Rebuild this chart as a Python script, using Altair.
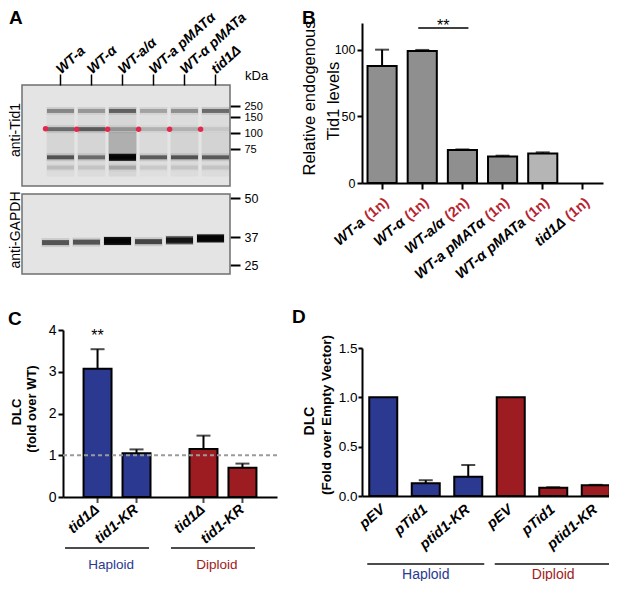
import altair as alt
import pandas as pd

FONT = "Liberation Sans"
W, H = 601, 573


def px(v):
    return v - 8


def py(v):
    return v - 8


BLUE = "#2b3990"
RED = "#9d1c21"
PLOIDY_RED = "#b82530"
GRAY = "#8f8f8f"
LIGHT = "#b5b5b5"
DOT = "#e0294d"

# ---------------- data ----------------
# Panel A (western blots)
lanes = ["WT-a", "WT-α", "WT-a/α", "WT-a pMATα", "WT-α pMATa", "tid1Δ"]
tid1_markers = [250, 150, 100, 75]
gapdh_markers = [50, 37, 25]
tid1_band_kda = [205, 112, 62, 46]
tid1_band_205 = [0.45, 0.35, 0.65, 0.30, 0.40, 0.60]
tid1_band_112 = [0.60, 0.70, 0.35, 0.22, 0.22, 0.10]
tid1_band_62 = [0.75, 0.60, 1.00, 0.70, 0.75, 0.70]
tid1_band_46 = [0.15, 0.12, 0.25, 0.10, 0.12, 0.12]
lane_smear = [0.03, 0.03, 0.06, 0.02, 0.03, 0.03]
lane_smear_mid = [0.03, 0.03, 0.18, 0.02, 0.04, 0.04]
gapdh_kda = [34.6, 34.8, 35.3, 35.0, 35.6, 36.4]
gapdh_int = [0.75, 0.75, 1.00, 0.85, 0.95, 1.00]
dot_kda = [113, 112, 112, 112, 112, 112]

# Panel B
b_strains = ["WT-a", "WT-α", "WT-a/α", "WT-a pMATα", "WT-α pMATa", "tid1Δ"]
b_ploidy = ["(1n)", "(1n)", "(2n)", "(1n)", "(1n)", "(1n)"]
b_values = [87.8, 99.0, 24.8, 19.8, 22.2, 0.0]
b_upper = [100.0, 99.8, 25.2, 20.5, 23.0, 0.0]
b_sig = {"from": "WT-α", "to": "WT-a/α", "level": 116.3, "mark": "**"}

# Panel C
groups = ["Haploid", "Diploid"]
c_groups = ["Haploid", "Haploid", "Diploid", "Diploid"]
c_labels = ["tid1Δ", "tid1-KR", "tid1Δ", "tid1-KR"]
c_values = [3.07, 1.05, 1.15, 0.70]
c_upper = [3.54, 1.14, 1.47, 0.80]

# Panel D
d_groups = ["Haploid", "Haploid", "Haploid", "Diploid", "Diploid", "Diploid"]
d_labels = ["pEV", "pTid1", "ptid1-KR", "pEV", "pTid1", "ptid1-KR"]
d_values = [1.0, 0.13, 0.195, 1.0, 0.084, 0.108]
d_upper = [1.0, 0.16, 0.314, 1.0, 0.089, 0.113]

EMPTY = alt.Data(values=[{}])
LAB_ANGLE = 320
LAB_SIZE = 14.5


def note(text, x, y, size=13, weight="normal", style="normal", angle=0,
         align="center", baseline="middle", color="black"):
    return alt.Chart(EMPTY).mark_text(
        text=text, font=FONT, fontSize=size, fontWeight=weight, fontStyle=style,
        angle=angle, align=align, baseline=baseline, color=color
    ).encode(x=alt.value(px(x)), y=alt.value(py(y)))


def frame(x1, x2, y1, y2):
    return alt.Chart(EMPTY).mark_rect(
        fill="#e4e4e4", stroke="#6f6f6f", strokeWidth=1.5
    ).encode(x=alt.value(px(x1)), x2=alt.value(px(x2)),
             y=alt.value(py(y1)), y2=alt.value(py(y2)))


def band_layers(df, xfun, yfun, core_thick):
    halo = alt.Chart(df).transform_calculate(op="datum.int*0.16").mark_tick(
        orient="horizontal", thickness=core_thick + 4, size=28, color="#1a1a1a"
    ).encode(x=xfun(), y=yfun("kda:Q"), opacity=alt.Opacity("op:Q", scale=None))
    core = alt.Chart(df).transform_calculate(op="datum.int*0.85").mark_tick(
        orient="horizontal", thickness=core_thick, size=27, color="#111111"
    ).encode(x=xfun(), y=yfun("kda:Q"), opacity=alt.Opacity("op:Q", scale=None))
    heavy = alt.Chart(df).transform_calculate(op="max(datum.int-0.85,0)*6").mark_tick(
        orient="horizontal", thickness=core_thick + 3, size=27, color="#000000"
    ).encode(x=xfun(), y=yfun("kda:Q"), opacity=alt.Opacity("op:Q", scale=None))
    return [halo, core, heavy]


# ---------------- Panel A upper (anti-Tid1) ----------------
scaleA_x = alt.Scale(domain=lanes, range=[px(45), px(231)], paddingInner=0.1, paddingOuter=0.05)
axisA_x = alt.Axis(orient="top", offset=-py(85), domain=False, ticks=True, tickSize=11,
                   tickWidth=1.5, labelAngle=-42, labelAlign="left", labelBaseline="middle",
                   labelPadding=3, labelFontSize=14, labelFontWeight="bold",
                   labelFontStyle="italic", labelOverlap=False, labelBound=False,
                   labelFlush=False, labelOffset=-2, title=None)
scaleA_y = alt.Scale(domain=[75, 100, 150, 250], range=[py(149), py(133), py(117), py(106)])
axisA_y = alt.Axis(orient="right", offset=px(230) - W, values=tid1_markers, domain=False,
                   tickSize=10, tickWidth=2, labelPadding=4, labelFontSize=11,
                   labelBaseline="middle", labelOverlap=False, labelBound=False, title=None)


def xA(field="lane:N"):
    return alt.X(field, scale=scaleA_x, axis=axisA_x)


def yA(field):
    return alt.Y(field, scale=scaleA_y, axis=axisA_y)


up_rows = []
for kda, ints in zip(tid1_band_kda, [tid1_band_205, tid1_band_112, tid1_band_62, tid1_band_46]):
    for lane, v in zip(lanes, ints):
        up_rows.append({"lane": lane, "kda": kda, "int": v})
up_df = pd.DataFrame(up_rows)
lane_df = pd.DataFrame({"lane": lanes, "smear": lane_smear, "mid": lane_smear_mid, "dotk": dot_kda})

smear = alt.Chart(lane_df).transform_calculate(top="240", bot="32").mark_rect(
    color="#000000"
).encode(x=xA(), y=yA("top:Q"), y2="bot:Q", opacity=alt.Opacity("smear:Q", scale=None))
smear_mid = alt.Chart(lane_df).transform_calculate(top="104", bot="66").mark_rect(
    color="#000000"
).encode(x=xA(), y=yA("top:Q"), y2="bot:Q", opacity=alt.Opacity("mid:Q", scale=None))
dots = alt.Chart(lane_df).mark_circle(size=30, color=DOT, opacity=1, xOffset=-1).encode(
    x=alt.X("lane:N", bandPosition=0, scale=scaleA_x, axis=axisA_x), y=yA("dotk:Q"))

a_up = alt.layer(frame(22, 230, 85, 186), smear, smear_mid,
                 *band_layers(up_df, xA, yA, 4), dots)

# ---------------- Panel A lower (anti-GAPDH) ----------------
scaleL_x = alt.Scale(domain=lanes, range=[px(40), px(226)], paddingInner=0.1, paddingOuter=0.05)
scaleL_y = alt.Scale(domain=[25, 37, 50], range=[py(265), py(237), py(198)])
axisL_y = alt.Axis(orient="right", offset=px(230) - W, values=gapdh_markers, domain=False,
                   tickSize=10, tickWidth=2, labelPadding=4, labelFontSize=12.5,
                   labelBaseline="middle", labelOverlap=False, labelBound=False, title=None)


def xL(field="lane:N"):
    return alt.X(field, scale=scaleL_x, axis=None)


def yL(field):
    return alt.Y(field, scale=scaleL_y, axis=axisL_y)


low_df = pd.DataFrame({"lane": lanes, "kda": gapdh_kda, "int": gapdh_int})
a_low = alt.layer(frame(22, 230, 194, 274), *band_layers(low_df, xL, yL, 5))

# ---------------- Panel B ----------------
b_df = pd.DataFrame({"strain": b_strains, "ploidy": b_ploidy,
                     "value": b_values, "upper": b_upper})
scaleB_x = alt.Scale(domain=b_strains, range=[px(362), px(603)],
                     paddingInner=0.275, paddingOuter=0.1375)
axisB_x = alt.Axis(orient="bottom", offset=py(183) - H, labels=False, title=None,
                   tickSize=6, tickWidth=2, domainWidth=2)
scaleB_y = alt.Scale(domain=[0, 120], range=[py(183), py(23)])
axisB_y = alt.Axis(orient="left", offset=-px(362), values=[0, 50, 100], tickSize=5,
                   tickWidth=2, domainWidth=2, labelFontSize=12.5, labelPadding=2, title=None)


def xB(field="strain:N"):
    return alt.X(field, scale=scaleB_x, axis=axisB_x)


def yB(field):
    return alt.Y(field, scale=scaleB_y, axis=axisB_y)


colB = alt.Color("strain:N", scale=alt.Scale(domain=b_strains,
                 range=[GRAY, GRAY, GRAY, GRAY, LIGHT, LIGHT]), legend=None)
b_bars = alt.Chart(b_df).transform_filter("datum.value > 0").mark_bar(
    stroke="black", strokeWidth=2).encode(x=xB(), y=yB("value:Q"), color=colB)
b_err = alt.Chart(b_df).transform_filter("datum.upper > datum.value").mark_rule(
    color="black", strokeWidth=2).encode(x=xB(), y=yB("value:Q"), y2="upper:Q")
b_cap = alt.Chart(b_df).transform_filter("datum.upper > 0").mark_tick(
    orient="horizontal", size=14, thickness=2, color="black").encode(x=xB(), y=yB("upper:Q"))
sig_df = pd.DataFrame([b_sig])
b_sigline = alt.Chart(sig_df).mark_rule(color="black", strokeWidth=1.5, xOffset=-4,
                                        x2Offset=6).encode(
    x=xB("from:N"), x2="to:N", y=yB("level:Q"))
b_sigtext = alt.Chart(sig_df).mark_text(font=FONT, fontSize=16, xOffset=21, dy=3,
                                        baseline="alphabetic").encode(
    x=xB("from:N"), y=yB("level:Q"), text="mark:N")
b_lab_red = alt.Chart(b_df).mark_text(
    font=FONT, fontSize=LAB_SIZE, fontWeight="bold", color=PLOIDY_RED, angle=LAB_ANGLE,
    align="right", baseline="middle", xOffset=5).encode(
    x=xB(), y=alt.value(py(201)), text="ploidy:N")
b_lab_blk = alt.Chart(b_df).mark_text(
    font=FONT, fontSize=LAB_SIZE, fontWeight="bold", fontStyle="italic", color="black",
    angle=LAB_ANGLE, align="right", baseline="middle", xOffset=5, dx=-31).encode(
    x=xB(), y=alt.value(py(201)), text="strain:N")
b = alt.layer(b_bars, b_err, b_cap, b_sigline, b_sigtext, b_lab_red, b_lab_blk)

# ---------------- Panel C ----------------
c_df = pd.DataFrame({"group": c_groups, "label": c_labels,
                     "value": c_values, "upper": c_upper})
g_df = pd.DataFrame({"group": groups})
scaleC_x = alt.Scale(domain=groups, range=[px(63), px(277)], paddingInner=0.3, paddingOuter=0.16)
axisC_x = alt.Axis(orient="bottom", offset=py(497) - H, labels=False, ticks=False,
                   title=None, domainWidth=2)
scaleC_y = alt.Scale(domain=[0, 4], range=[py(497), py(330)])
axisC_y = alt.Axis(orient="left", offset=-px(63), values=[0, 1, 2, 3, 4], tickSize=5,
                   tickWidth=2, domainWidth=2, labelFontSize=14, labelPadding=2, title=None)
xoC = alt.XOffset("label:N", scale=alt.Scale(domain=["tid1Δ", "tid1-KR"],
                  paddingInner=0.282, paddingOuter=0.0925))
colC = alt.Color("group:N", scale=alt.Scale(domain=groups, range=[BLUE, RED]), legend=None)


def xC():
    return alt.X("group:N", scale=scaleC_x, axis=axisC_x)


def yC(field):
    return alt.Y(field, scale=scaleC_y, axis=axisC_y)


c_bars = alt.Chart(c_df).mark_bar(stroke="black", strokeWidth=2).encode(
    x=xC(), xOffset=xoC, y=yC("value:Q"), color=colC)
c_err = alt.Chart(c_df).mark_rule(color="black", strokeWidth=2).encode(
    x=xC(), xOffset=xoC, y=yC("value:Q"), y2="upper:Q")
c_cap = alt.Chart(c_df).mark_tick(orient="horizontal", size=14, thickness=2,
                                  color="black").encode(x=xC(), xOffset=xoC, y=yC("upper:Q"))
c_ticks = alt.Chart(c_df).transform_calculate(zero="0").mark_tick(
    orient="vertical", size=6, thickness=2, color="black", yOffset=3).encode(
    x=xC(), xOffset=xoC, y=yC("zero:Q"))
c_dash = alt.Chart(EMPTY).transform_calculate(one="1").mark_rule(
    strokeDash=[4, 3], strokeWidth=2, color="#9b9b9b").encode(
    x=alt.value(px(63)), x2=alt.value(px(277)), y=yC("one:Q"))
c_star = alt.Chart(c_df).transform_filter("datum.upper > 3").transform_calculate(
    s="'**'").mark_text(font=FONT, fontSize=16, dy=-8, baseline="alphabetic").encode(
    x=xC(), xOffset=xoC, y=yC("upper:Q"), text="s:N")
c_labs = alt.Chart(c_df).mark_text(
    font=FONT, fontSize=LAB_SIZE, fontWeight="bold", fontStyle="italic", color="black",
    angle=LAB_ANGLE, align="right", baseline="middle", xOffset=5).encode(
    x=xC(), xOffset=xoC, y=alt.value(py(508)), text="label:N")
c_glines = alt.Chart(g_df).mark_tick(orient="horizontal", size=84, thickness=2,
                                     color="black", xOffset=-10).encode(
    x=xC(), y=alt.value(py(548)))
c_gtext = alt.Chart(g_df).mark_text(font=FONT, fontSize=13.5, xOffset=-6).encode(
    x=xC(), y=alt.value(py(565)), text="group:N", color=colC)
c = alt.layer(c_bars, c_err, c_cap, c_ticks, c_dash, c_star, c_labs, c_glines, c_gtext)

# ---------------- Panel D ----------------
d_df = pd.DataFrame({"group": d_groups, "label": d_labels,
                     "value": d_values, "upper": d_upper})
scaleD_x = alt.Scale(domain=groups, range=[px(362), px(617)], paddingInner=0, paddingOuter=0)
axisD_x = alt.Axis(orient="bottom", offset=py(496) - H, labels=False, ticks=False,
                   title=None, domainWidth=2)
scaleD_y = alt.Scale(domain=[0, 1.5], range=[py(496), py(348)])
axisD_y = alt.Axis(orient="left", offset=-px(362), values=[0, 0.5, 1.0, 1.5], format=".1f",
                   tickSize=4, tickWidth=2, domainWidth=2, labelFontSize=13.5,
                   labelPadding=1, title=None)
xoD = alt.XOffset("label:N", scale=alt.Scale(domain=["pEV", "pTid1", "ptid1-KR"],
                  paddingInner=0.341, paddingOuter=0.1705))
colD = alt.Color("group:N", scale=alt.Scale(domain=groups, range=[BLUE, RED]), legend=None)


def xD():
    return alt.X("group:N", scale=scaleD_x, axis=axisD_x)


def yD(field):
    return alt.Y(field, scale=scaleD_y, axis=axisD_y)


d_bars = alt.Chart(d_df).mark_bar(stroke="black", strokeWidth=2).encode(
    x=xD(), xOffset=xoD, y=yD("value:Q"), color=colD)
d_err = alt.Chart(d_df).transform_filter("datum.upper > datum.value").mark_rule(
    color="black", strokeWidth=2).encode(x=xD(), xOffset=xoD, y=yD("value:Q"), y2="upper:Q")
d_cap = alt.Chart(d_df).transform_filter("datum.upper > datum.value").mark_tick(
    orient="horizontal", size=14, thickness=2, color="black").encode(
    x=xD(), xOffset=xoD, y=yD("upper:Q"))
d_labs = alt.Chart(d_df).mark_text(
    font=FONT, fontSize=LAB_SIZE, fontWeight="bold", fontStyle="italic", color="black",
    angle=LAB_ANGLE, align="right", baseline="middle", xOffset=5).encode(
    x=xD(), xOffset=xoD, y=alt.value(py(508)), text="label:N")
d_glines = alt.Chart(g_df).mark_tick(orient="horizontal", size=117, thickness=2,
                                     color="black").encode(x=xD(), y=alt.value(py(564)))
d_gtext = alt.Chart(g_df).mark_text(font=FONT, fontSize=14).encode(
    x=xD(), y=alt.value(py(575)), text="group:N", color=colD)
d = alt.layer(d_bars, d_err, d_cap, d_labs, d_glines, d_gtext)

# ---------------- annotations ----------------
notes = [
    note("A", 9, 9, size=19, weight="bold", align="left", baseline="top"),
    note("B", 302, 9, size=19, weight="bold", align="left", baseline="top"),
    note("C", 8, 310, size=19, weight="bold", align="left", baseline="top"),
    note("D", 292, 308, size=19, weight="bold", align="left", baseline="top"),
    note("kDa", 245, 76, size=13, align="left"),
    note("anti-Tid1", 16, 130, size=14, angle=270),
    note("anti-GAPDH", 16, 230, size=14, angle=270),
    note("Relative endogenous", 310, 98, size=16.5, angle=270),
    note("Tid1 levels", 334, 101, size=16.5, angle=270),
    note("DLC", 17, 412, size=13, weight="bold", angle=270),
    note("(fold over WT)", 32, 409, size=13, weight="bold", angle=270),
    note("DLC", 310, 421, size=14, weight="bold", angle=270),
    note("(Fold over Empty Vector)", 327, 415, size=13.5, weight="bold", angle=270),
]

chart = alt.layer(a_up, a_low, b, c, d, *notes).resolve_scale(
    x="independent", y="independent", xOffset="independent", color="independent"
).properties(
    width=W, height=H, padding=0, autosize=alt.AutoSizeParams(type="none")
).configure_view(stroke=None).configure_axis(
    labelFont=FONT, labelColor="black", tickColor="black", domainColor="black", grid=False
)

chart.save("out.html", embed_options={"renderer": "svg", "actions": False})
